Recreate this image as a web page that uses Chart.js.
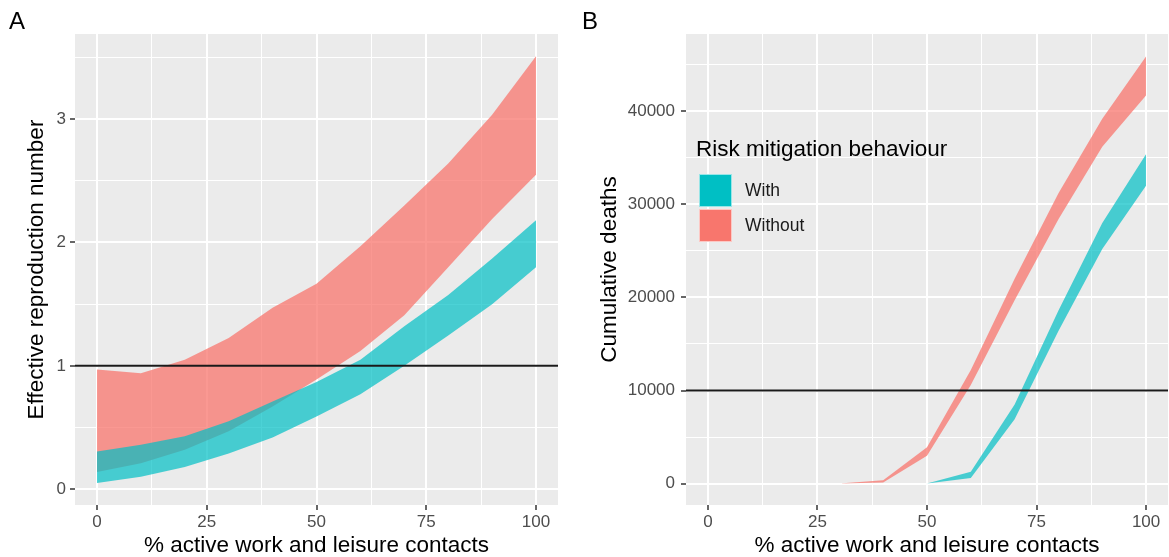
<!DOCTYPE html>
<html>
<head>
<meta charset="utf-8">
<script src="https://cdn.jsdelivr.net/npm/chart.js@4.4.1/dist/chart.umd.min.js"></script>
<style>
  html, body { margin: 0; padding: 0; background: #ffffff; }
  body { width: 1169px; height: 557px; position: relative; overflow: hidden; font-family: "Liberation Sans", Arial, sans-serif; }
  .panel { position: absolute; top: 0; height: 557px; }
  #wrapA { left: 0; width: 580px; }
  #wrapB { left: 580px; width: 589px; }
  .tag { position: absolute; top: 8px; font-size: 24px; color: #000; line-height: 26px; }
  #tagA { left: 9px; }
  #tagB { left: 582px; }
</style>
</head>
<body>
<div class="panel" id="wrapA"><canvas id="chartA"></canvas></div>
<div class="panel" id="wrapB"><canvas id="chartB"></canvas></div>
<div class="tag" id="tagA">A</div>
<div class="tag" id="tagB">B</div>
<script>
// ---------------- data ----------------
const contacts = [0, 10, 20, 30, 40, 50, 60, 70, 80, 90, 100];

// Panel A: effective reproduction number ribbons
const rWithLower    = [0.05, 0.10, 0.18, 0.29, 0.42, 0.59, 0.77, 1.00, 1.245, 1.50, 1.80];
const rWithUpper    = [0.305, 0.36, 0.43, 0.55, 0.71, 0.87, 1.05, 1.32, 1.575, 1.87, 2.18];
const rWithoutLower = [0.14, 0.21, 0.32, 0.47, 0.67, 0.89, 1.12, 1.41, 1.80, 2.19, 2.55];
const rWithoutUpper = [0.97, 0.94, 1.05, 1.225, 1.47, 1.665, 1.97, 2.30, 2.64, 3.035, 3.51];

// Panel B: cumulative deaths ribbons
const dWithLower    = [0, 0, 0, 0, 0, 0, 600, 6900, 16400, 25200, 32000];
const dWithUpper    = [0, 0, 0, 0, 0, 0, 1270, 8500, 18600, 28000, 35400];
const dWithoutLower = [0, 0, 0, 0, 120, 3000, 10600, 19700, 28400, 36200, 41700];
const dWithoutUpper = [0, 0, 0, 0, 350, 3900, 12200, 22000, 31200, 39200, 45900];

// tick labels / reference values
const xMajorTicks = [0, 25, 50, 75, 100];
const xMinorTicks = [12.5, 37.5, 62.5, 87.5];
const yAMajorTicks = [0, 1, 2, 3];
const yAMinorTicks = [0.5, 1.5, 2.5, 3.5];
const yBMajorTicks = [0, 10000, 20000, 30000, 40000];
const yBMinorTicks = [5000, 15000, 25000, 35000, 45000];
const thresholdA = 1;
const thresholdB = 10000;

const seriesNames = ['With', 'Without'];
const legendTitle = 'Risk mitigation behaviour';
const xTitle = '% active work and leisure contacts';
const yTitleA = 'Effective reproduction number';
const yTitleB = 'Cumulative deaths';

// ---------------- styling ----------------
const FONT = '"Liberation Sans", Arial, Helvetica, sans-serif';
const tealSolid = '#00BFC4';
const redSolid = '#F8766D';
const tealFill = 'rgba(0,191,196,0.7)';
const redFill = 'rgba(248,118,109,0.75)';
const panelBg = '#EBEBEB';
const TITLE_SIZE = 22.5;
const TICK_SIZE = 17;

Chart.defaults.font.family = FONT;
Chart.defaults.animation = false;

function pts(ys) { return contacts.map((x, i) => ({ x: x, y: ys[i] })); }

function ribbonDatasets(withLo, withUp, withoutLo, withoutUp) {
  const base = { pointRadius: 0, borderWidth: 0, tension: 0, showLine: true, borderColor: 'rgba(0,0,0,0)' };
  // teal first so it is drawn on top
  return [
    Object.assign({}, base, { label: seriesNames[0] + ' lower', data: pts(withLo), fill: false }),
    Object.assign({}, base, { label: seriesNames[0], data: pts(withUp), fill: '-1', backgroundColor: tealFill }),
    Object.assign({}, base, { label: seriesNames[1] + ' lower', data: pts(withoutLo), fill: false }),
    Object.assign({}, base, { label: seriesNames[1], data: pts(withoutUp), fill: '-1', backgroundColor: redFill })
  ];
}

const bgPlugin = {
  id: 'panelBg',
  beforeDraw(chart) {
    const { ctx, chartArea: a } = chart;
    ctx.save();
    ctx.fillStyle = panelBg;
    ctx.fillRect(a.left, a.top, a.right - a.left, a.bottom - a.top);
    ctx.restore();
  }
};

function thresholdPlugin(value) {
  return {
    id: 'threshold',
    afterDatasetsDraw(chart) {
      const { ctx, chartArea: a } = chart;
      const y = chart.scales.y.getPixelForValue(value);
      ctx.save();
      ctx.strokeStyle = '#1a1a1a';
      ctx.lineWidth = 2;
      ctx.beginPath();
      ctx.moveTo(a.left, y);
      ctx.lineTo(a.right, y);
      ctx.stroke();
      ctx.restore();
    }
  };
}

const legendPlugin = {
  id: 'insideLegend',
  afterDraw(chart) {
    const { ctx } = chart;
    ctx.save();
    ctx.fillStyle = '#000';
    ctx.textBaseline = 'middle';
    ctx.textAlign = 'left';
    ctx.font = TITLE_SIZE + 'px ' + FONT;
    ctx.fillText(legendTitle, 116, 150);
    const keys = [tealSolid, redSolid];
    const ys = [174, 209];
    ctx.font = '17.5px ' + FONT;
    for (let i = 0; i < 2; i++) {
      ctx.fillStyle = keys[i];
      ctx.fillRect(119, ys[i], 33, 33);
      ctx.strokeStyle = 'rgba(255,255,255,0.6)';
      ctx.lineWidth = 1;
      ctx.strokeRect(119.5, ys[i] + 0.5, 32, 32);
      ctx.fillStyle = '#1a1a1a';
      ctx.fillText(seriesNames[i], 165, ys[i] + 17);
    }
    ctx.restore();
  }
};

function axisConfig(opts) {
  const majors = opts.majors, minors = opts.minors;
  const all = majors.concat(minors).sort((a, b) => a - b);
  const isMajor = v => majors.indexOf(v) !== -1;
  return {
    type: 'linear',
    position: opts.position,
    min: opts.min,
    max: opts.max,
    afterBuildTicks: s => { s.ticks = all.map(v => ({ value: v })); },
    afterFit: s => { if (opts.width !== undefined) s.width = opts.width; if (opts.height !== undefined) s.height = opts.height; },
    border: { display: false },
    grid: {
      color: '#FFFFFF',
      lineWidth: c => (c.tick && isMajor(c.tick.value)) ? 2 : 1,
      drawTicks: true,
      tickLength: 5,
      tickWidth: 1.5,
      tickColor: c => (c.tick && isMajor(c.tick.value)) ? '#333333' : 'rgba(0,0,0,0)'
    },
    ticks: {
      autoSkip: false,
      maxRotation: 0,
      minRotation: 0,
      padding: opts.tickPad,
      color: '#4D4D4D',
      font: { size: TICK_SIZE, family: FONT },
      callback: v => isMajor(v) ? String(v) : ''
    },
    title: {
      display: true,
      text: opts.title,
      color: '#000000',
      font: { size: TITLE_SIZE, family: FONT, lineHeight: 1 },
      padding: opts.titlePad
    }
  };
}

function makeChart(id, datasets, xOpts, yOpts, layoutPad, plugins) {
  return new Chart(document.getElementById(id), {
    type: 'scatter',
    data: { datasets: datasets },
    options: {
      responsive: true,
      maintainAspectRatio: false,
      devicePixelRatio: 1,
      layout: { padding: layoutPad },
      plugins: { legend: { display: false }, tooltip: { enabled: false } },
      scales: { x: axisConfig(xOpts), y: axisConfig(yOpts) }
    },
    plugins: plugins
  });
}

makeChart('chartA',
  ribbonDatasets(rWithLower, rWithUpper, rWithoutLower, rWithoutUpper),
  { position: 'bottom', majors: xMajorTicks, minors: xMinorTicks, min: -5, max: 105, height: 52, tickPad: 2, title: xTitle, titlePad: { top: 0, bottom: 0 } },
  { position: 'left', majors: yAMajorTicks, minors: yAMinorTicks, min: -0.128, max: 3.69, width: 75, tickPad: 4, title: yTitleA, titlePad: { top: 26, bottom: 0 } },
  { top: 34, right: 22, left: 0, bottom: 0 },
  [bgPlugin, thresholdPlugin(thresholdA)]
);

makeChart('chartB',
  ribbonDatasets(dWithLower, dWithUpper, dWithoutLower, dWithoutUpper),
  { position: 'bottom', majors: xMajorTicks, minors: xMinorTicks, min: -5, max: 105, height: 52, tickPad: 2, title: xTitle, titlePad: { top: 0, bottom: 0 } },
  { position: 'left', majors: yBMajorTicks, minors: yBMinorTicks, min: -2300, max: 48300, width: 106, tickPad: 6, title: yTitleB, titlePad: { top: 19, bottom: 0 } },
  { top: 34, right: 1, left: 0, bottom: 0 },
  [bgPlugin, thresholdPlugin(thresholdB), legendPlugin]
);
</script>
</body>
</html>
